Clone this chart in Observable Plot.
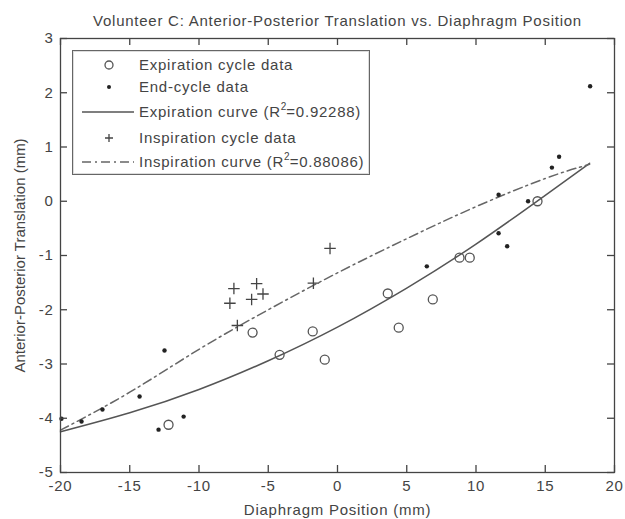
<!DOCTYPE html>
<html>
<head>
<meta charset="utf-8">
<script src="https://cdn.jsdelivr.net/npm/d3@7"></script>
<script src="https://cdn.jsdelivr.net/npm/@observablehq/plot@0.6"></script>
<style>
  body { margin: 0; background: #fff; font-family: "Liberation Sans", Arial, sans-serif; }
  #wrap { position: relative; width: 625px; height: 519px; }
  #legend { position: absolute; left: 72px; top: 50px; width: 298px; height: 125px;
            border: 1px solid #666; background: #fff; box-sizing: border-box;
            box-shadow: inset 0 0 0 1px #ddd; }
  #legend .row { position: absolute; left: 66px; font-size: 15px; letter-spacing: 0.75px; color: #444; line-height: 18px; white-space: nowrap; }
  #legend sup { font-size: 10px; line-height: 0; position: relative; top: -1px; letter-spacing: 0; }
  #legend svg { position: absolute; left: 0; top: 0; }
</style>
</head>
<body>
<div id="wrap"></div>
<script>
// ---- Data ----
const expirationX = [-12.2, -6.13, -4.18, -1.79, -0.92, 3.63, 4.42, 6.88, 8.81, 9.55, 14.44];
const expirationY = [-4.12, -2.42, -2.83, -2.40, -2.92, -1.70, -2.33, -1.81, -1.04, -1.04, 0.0];

const endCycleX = [-19.93, -18.48, -16.97, -14.29, -12.49, -12.92, -11.11, 6.45, 11.63, 11.63, 12.25, 13.76, 15.48, 16.0, 18.24];
const endCycleY = [-4.01, -4.06, -3.84, -3.60, -2.75, -4.21, -3.97, -1.20, 0.12, -0.59, -0.83, 0.0, 0.62, 0.82, 2.12];

const inspirationX = [-7.77, -7.48, -7.23, -6.2, -5.84, -5.38, -1.74, -0.54];
const inspirationY = [-1.88, -1.61, -2.29, -1.81, -1.52, -1.71, -1.51, -0.87];

const curveX = [-20, -15, -10, -5, 0, 5, 10, 15, 18.2];
const expirationCurveY = [-4.25, -3.90, -3.47, -2.94, -2.32, -1.60, -0.79, 0.11, 0.70];
const inspirationCurveY = [-4.22, -3.52, -2.73, -2.00, -1.32, -0.69, -0.10, 0.42, 0.68];

const xTicks = [-20, -15, -10, -5, 0, 5, 10, 15, 20];
const yTicks = [-5, -4, -3, -2, -1, 0, 1, 2, 3];

const titleText = "Volunteer C: Anterior-Posterior Translation vs. Diaphragm Position";
const xLabel = "Diaphragm Position (mm)";
const yLabel = "Anterior-Posterior Translation (mm)";

// ---- Build tables ----
const zip = (xs, ys) => xs.map((x, i) => ({x, y: ys[i]}));
const expiration = zip(expirationX, expirationY);
const endCycle = zip(endCycleX, endCycleY);
const inspiration = zip(inspirationX, inspirationY);
const expCurve = zip(curveX, expirationCurveY);
const inspCurve = zip(curveX, inspirationCurveY);

const axisColor = "#444";
const W = 625, H = 519, ML = 60, MR = 11, MT = 38, MB = 47;
const frameW = W - ML - MR, frameH = H - MT - MB, tick = 7;
const fmt = d => String(d);

const chart = Plot.plot({
  width: W,
  height: H,
  marginLeft: ML,
  marginRight: MR,
  marginTop: MT,
  marginBottom: MB,
  style: { fontFamily: "Liberation Sans, Arial, sans-serif", fontSize: "15px", letterSpacing: "0.75px", color: "#444", background: "#fff" },
  x: { domain: [-20, 20] },
  y: { domain: [-5, 3] },
  marks: [
    Plot.line(expCurve, { x: "x", y: "y", curve: "natural", stroke: "#555", strokeWidth: 1.5 }),
    Plot.line(inspCurve, { x: "x", y: "y", curve: "natural", stroke: "#666", strokeWidth: 1.5, strokeDasharray: "9,4,2,4" }),
    Plot.dot(expiration, { x: "x", y: "y", r: 4.5, stroke: "#555", strokeWidth: 1.3, fill: "none" }),
    Plot.dot(endCycle, { x: "x", y: "y", r: 2.2, fill: "#222", stroke: "none" }),
    Plot.dot(inspiration, { x: "x", y: "y", symbol: "plus", r: 3.8, stroke: "#444", strokeWidth: 1.3 }),
    // inward ticks on all four sides
    Plot.tickX(xTicks, { x: d => d, insetTop: frameH - tick, stroke: axisColor, strokeWidth: 1.3 }),
    Plot.tickX(xTicks, { x: d => d, insetBottom: frameH - tick, stroke: axisColor, strokeWidth: 1.3 }),
    Plot.tickY(yTicks, { y: d => d, insetRight: frameW - tick, stroke: axisColor, strokeWidth: 1.3 }),
    Plot.tickY(yTicks, { y: d => d, insetLeft: frameW - tick, stroke: axisColor, strokeWidth: 1.3 }),
    // labels
    Plot.axisX(xTicks, { anchor: "bottom", tickSize: 0, tickPadding: 8, tickFormat: fmt, label: xLabel, labelAnchor: "center", labelOffset: 42, labelArrow: "none", fill: "#444" }),
    Plot.axisY(yTicks, { anchor: "left", tickSize: 0, tickPadding: 7, tickFormat: fmt, label: yLabel, labelAnchor: "center", labelOffset: 46, labelArrow: "none", fill: "#444" }),
    Plot.frame({ stroke: axisColor, strokeWidth: 1.3 }),
    Plot.text([titleText], { frameAnchor: "top", dy: -23, text: d => d, fontSize: 15, fill: "#444" })
  ]
});

// The y label is written vertically: no extra letter spacing there.
d3.select(chart).selectAll('g[aria-label="y-axis label"] text').style("letter-spacing", "0px");

const wrap = document.getElementById("wrap");
wrap.appendChild(chart);

// ---- Legend (HTML overlay inside the axes) ----
const legendRows = [
  { label: "Expiration cycle data", kind: "circle", cy: 14 },
  { label: "End-cycle data", kind: "dot", cy: 36 },
  { label: "Expiration curve (R<sup>2</sup>=0.92288)", kind: "solid", cy: 61 },
  { label: "Inspiration cycle data", kind: "plus", cy: 87 },
  { label: "Inspiration curve (R<sup>2</sup>=0.88086)", kind: "dashdot", cy: 111 }
];
const legend = document.createElement("div");
legend.id = "legend";
const ns = "http://www.w3.org/2000/svg";
const svg = document.createElementNS(ns, "svg");
svg.setAttribute("width", 66);
svg.setAttribute("height", 125);
for (const r of legendRows) {
  let el;
  if (r.kind === "circle") {
    el = document.createElementNS(ns, "circle");
    el.setAttribute("cx", 36); el.setAttribute("cy", r.cy); el.setAttribute("r", 4);
    el.setAttribute("fill", "none"); el.setAttribute("stroke", "#555"); el.setAttribute("stroke-width", 1.3);
  } else if (r.kind === "dot") {
    el = document.createElementNS(ns, "circle");
    el.setAttribute("cx", 36); el.setAttribute("cy", r.cy); el.setAttribute("r", 2);
    el.setAttribute("fill", "#222");
  } else if (r.kind === "plus") {
    el = document.createElementNS(ns, "path");
    el.setAttribute("d", `M32,${r.cy}h8M36,${r.cy - 4}v8`);
    el.setAttribute("stroke", "#444"); el.setAttribute("stroke-width", 1.3);
  } else {
    el = document.createElementNS(ns, "line");
    el.setAttribute("x1", 9); el.setAttribute("x2", 61);
    el.setAttribute("y1", r.cy); el.setAttribute("y2", r.cy);
    el.setAttribute("stroke", r.kind === "solid" ? "#555" : "#666");
    el.setAttribute("stroke-width", 1.5);
    if (r.kind === "dashdot") el.setAttribute("stroke-dasharray", "9,4,2,4");
  }
  svg.appendChild(el);
  const t = document.createElement("div");
  t.className = "row";
  t.innerHTML = r.label;
  t.style.top = (r.cy - 9) + "px";
  legend.appendChild(t);
}
legend.appendChild(svg);
wrap.appendChild(legend);
</script>
</body>
</html>
